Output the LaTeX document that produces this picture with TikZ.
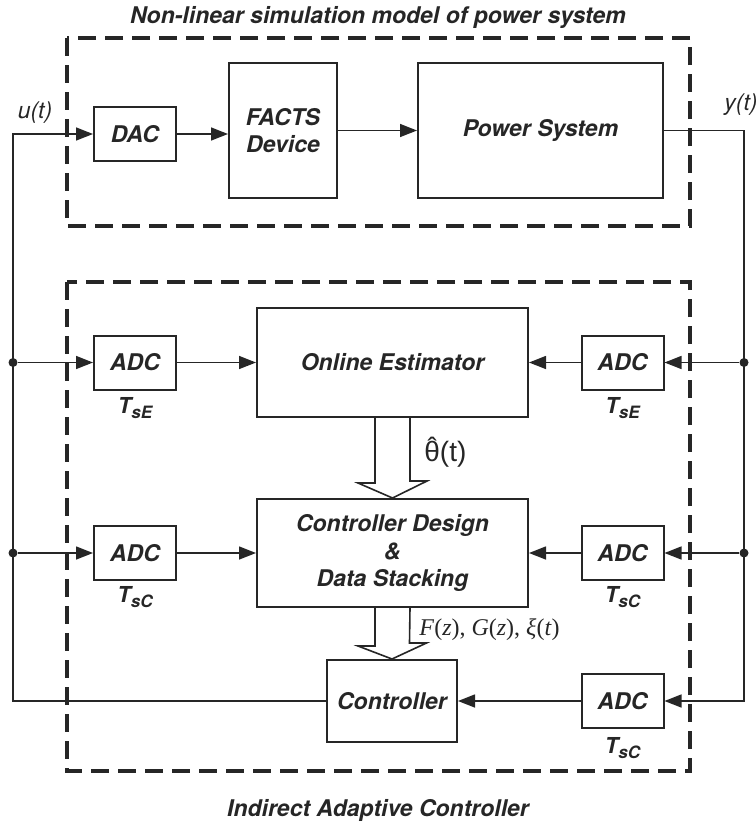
\documentclass[tikz,border=0pt]{standalone}
\usepackage{fontspec}
\setmainfont{TeX Gyre Heros}
\newfontfamily\lsans{Liberation Sans}
\newfontfamily\lserif{Liberation Serif}
\usetikzlibrary{arrows.meta}
\definecolor{ink}{HTML}{262626}
\newcommand{\Ts}[1]{T\raisebox{-0.45ex}{\fontsize{8.5}{9}\selectfont #1}}

\begin{document}
\begin{tikzpicture}[x=0.5pt,y=-0.5pt,>={Triangle[length=8.5pt,width=6.5pt]}]
        \tikzstyle{every node}=[color=ink]
        \tikzstyle{blk}=[draw=ink,line width=1pt,fill=white,inner sep=0pt,align=center,font=\fontsize{11.5}{13.6}\selectfont\bfseries\itshape]
        \tikzstyle{adc}=[blk,minimum width=41pt,minimum height=27pt]
        \tikzstyle{ttl}=[inner sep=0pt,font=\fontsize{11.5}{13}\selectfont\bfseries\itshape]
        \tikzstyle{smp}=[inner sep=0pt,font=\fontsize{11}{12}\selectfont\bfseries\itshape]
        \tikzstyle{sig}=[inner sep=0pt,font=\fontsize{11.5}{13}\selectfont\itshape]
        \tikzstyle{dot}=[circle,fill=ink,inner sep=0pt,minimum size=4.5pt]
        \tikzstyle{wire}=[draw=ink,line width=0.75pt]
        \tikzstyle{dashbox}=[draw=ink,line width=2pt,dash pattern=on 9pt off 4.5pt]
        \tikzstyle{fat}=[draw=ink,fill=white,line width=0.8pt]

            \useasboundingbox (0,0) rectangle (756,826);

            % power system side
            \draw[dashbox] (67,38) rectangle (690,226);
            \node[ttl] (ttop) at (378,17) {Non-linear simulation model of power system};
            \node[adc] (dac) at (135,134) {DAC};
            \node[blk,minimum width=54pt,minimum height=67.5pt] (facts) at (283,130.5) {FACTS\\Device};
            \node[blk,minimum width=122.5pt,minimum height=67.5pt] (ps) at (540.5,130.5) {Power System};
            \node[sig] (u) at (35,113) {u(t)};
            \node[sig] (y) at (741,105) {y(t)};
            \coordinate (ul) at (13,134);
            \coordinate (yr) at (744,130.5);

            % controller side
            \draw[dashbox] (67,282) rectangle (690,771);
            \node[ttl] (tbot) at (378,810) {Indirect Adaptive Controller};
            \node[adc] (adcl1) at (135,362.5) {ADC};
            \node[adc] (adcr1) at (622.5,362.5) {ADC};
            \node[adc] (adcl2) at (135,553) {ADC};
            \node[adc] (adcr2) at (622.5,553) {ADC};
            \node[adc] (adcr3) at (622.5,701) {ADC};
            \node[blk,minimum width=135.5pt,minimum height=54.5pt] (est) at (392.5,362.5) {Online Estimator};
            \node[blk,minimum width=135.5pt,minimum height=54pt] (cd) at (392.5,553) {Controller Design\\\&\\Data Stacking};
            \node[blk,minimum width=65pt,minimum height=41pt] (ctrl) at (392,701) {Controller};
            \node[smp] (tse1) at (135,408) {\Ts{sE}};
            \node[smp] (tse2) at (622.5,408) {\Ts{sE}};
            \node[smp] (tsc1) at (135,597) {\Ts{sC}};
            \node[smp] (tsc2) at (622.5,597) {\Ts{sC}};
            \node[smp] (tsc3) at (622.5,748) {\Ts{sC}};
            \node[dot] (jl1) at (13,362.5) {};
            \node[dot] (jl2) at (13,553) {};
            \node[dot] (jr1) at (744,362.5) {};
            \node[dot] (jr2) at (744,553) {};

            \draw[wire,->] (dac) -- (dac -| facts.west);
            \draw[wire,->] (facts) -- (ps);
            \draw[wire,->] (ps) -- (yr) |- (adcr3);
            \draw[wire,->] (ctrl) -| (ul) -- (dac);
            \draw[wire,->] (jl1) -- (adcl1);
            \draw[wire,->] (adcl1) -- (est);
            \draw[wire,->] (jr1) -- (adcr1);
            \draw[wire,->] (adcr1) -- (est);
            \draw[wire,->] (jl2) -- (adcl2);
            \draw[wire,->] (adcl2) -- (cd);
            \draw[wire,->] (jr2) -- (adcr2);
            \draw[wire,->] (adcr2) -- (cd);
            \draw[wire,->] (adcr3) -- (ctrl);

            % parameter paths
            \draw[fat] ([xshift=-8.75pt]est.south) -- ++(0,65) -- ++(-17,0) -- (cd.north) -- ++(34.5,-17) -- ++(-17,0) -- ([xshift=8.75pt]est.south);
            \draw[fat] ([xshift=-8.75pt]cd.south) -- ++(0,38) -- ++(-17,0) -- (ctrl.north) -- ++(34.5,-16) -- ++(-17,0) -- ([xshift=8.75pt]cd.south);
            \node[anchor=west,inner sep=0pt,font=\lsans\fontsize{14}{16}\selectfont] (th) at (424,452) {\accent"02C6 θ(t)};
            \node[anchor=west,inner sep=0pt,font=\lserif\fontsize{12}{14}\selectfont] (fg) at (419,630) {\textit{F}(\textit{z}), \textit{G}(\textit{z}), \textit{ξ}(\textit{t})};
        \end{tikzpicture}
\end{document}
